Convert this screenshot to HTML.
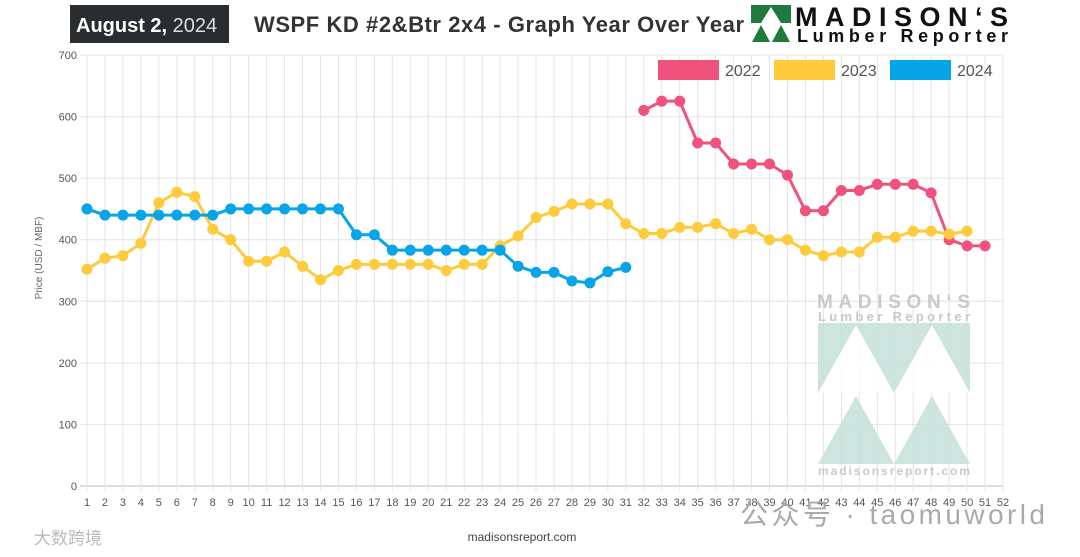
<!DOCTYPE html>
<html><head><meta charset="utf-8"><style>
body{margin:0;background:#fff;width:1080px;height:557px;overflow:hidden;font-family:"Liberation Sans","Noto Sans CJK SC",sans-serif}
svg{display:block}
</style></head><body>
<svg id="chart" width="1080" height="557">
<rect x="70" y="5" width="159" height="38" fill="#2a2d30"/>
<text x="76" y="32" font-size="20" fill="#fff" font-weight="bold">August 2,<tspan font-weight="normal" fill="#ddd"> 2024</tspan></text>
<text x="254" y="32" font-size="22" fill="#333" font-weight="bold" textLength="490">WSPF KD #2&amp;Btr 2x4 - Graph Year Over Year</text>
<g>
<polygon points="751,5 791,5 791,23 781,23 771,7 761,23 751,23" fill="#1f7a3c"/>
<polygon points="752,42 761,25 770,42" fill="#1f7a3c"/><polygon points="772,42 781,25 790,42" fill="#1f7a3c"/>
<text x="795" y="26" font-size="27" font-weight="bold" fill="#111" textLength="213">MADISON‘S</text>
<text x="797" y="42" font-size="18" font-weight="bold" fill="#111" textLength="211">Lumber Reporter</text>
</g>
<g id="grid"></g>
<g opacity="0.9">
<text x="817" y="308" font-size="19" font-weight="bold" fill="#c4c4c4" textLength="153">MADISON‘S</text>
<text x="818" y="321" font-size="13" font-weight="bold" fill="#c4c4c4" textLength="152">Lumber Reporter</text>
<rect x="818" y="323" width="152" height="70" fill="#c8e2dc"/>
<polygon points="818,393 856,325 894,393" fill="#fff"/><polygon points="894,393 932,325 970,393" fill="#fff"/>
<polygon points="818,464 856,396 894,464" fill="#c8e2dc"/><polygon points="894,464 932,396 970,464" fill="#c8e2dc"/>
<text x="818" y="475" font-size="12" font-weight="bold" fill="#c4c4c4" textLength="152">madisonsreport.com</text>
</g>
<g id="series"></g>
<g id="legend"></g>
<text x="522" y="541" font-size="12" fill="#444" text-anchor="middle">madisonsreport.com</text>
<text x="42" y="258" font-size="10" fill="#666" text-anchor="middle" transform="rotate(-90 42 258)">Price (USD / MBF)</text>
<text x="34" y="544" font-size="17" fill="#bbb">大数跨境</text>
<text x="740" y="524" font-size="28" fill="#aaa" textLength="305">公众号 · taomuworld</text>
</svg>
<script>
const weeks=[];for(let i=1;i<=52;i++)weeks.push(i);
const yTicks=[0,100,200,300,400,500,600,700];
const seriesNames=["2022","2023","2024"];
const data2022=[null,null,null,null,null,null,null,null,null,null,null,null,null,null,null,null,null,null,null,null,null,null,null,null,null,null,null,null,null,null,null,610,625,625,557,557,523,523,523,505,447,447,480,480,490,490,490,476,400,390,390];
const data2023=[352,370,374,394,460,477,470,417,400,365,365,380,357,335,350,360,360,360,360,360,350,360,360,390,406,436,446,458,458,458,426,410,410,420,420,426,410,417,400,400,383,374,380,380,404,404,414,414,409,414];
const data2024=[450,440,440,440,440,440,440,440,450,450,450,450,450,450,450,408,408,383,383,383,383,383,383,383,357,347,347,333,330,348,355];
const colors=["#f0527e","#fdcb3c","#08a4e8"];
const NS="http://www.w3.org/2000/svg";
const x=w=>87+(w-1)*(1003-87)/51;
const y=v=>486-v*(486-55)/700;
function mk(t,a,p){const e=document.createElementNS(NS,t);for(const k in a)e.setAttribute(k,a[k]);p.appendChild(e);return e;}
const g=document.getElementById('grid');
yTicks.forEach(v=>{
 const l=mk('line',{x1:80,x2:1003,y1:y(v),y2:y(v),stroke:v===0?'#bbb':'#e4e4e4'},g);
 
 
 const t=mk('text',{x:77,y:y(v)+4,'font-size':11,fill:'#555','text-anchor':'end'},g);t.textContent=v;
 
 
});
weeks.forEach(w=>{
 const l=mk('line',{x1:x(w),x2:x(w),y1:55,y2:491,stroke:'#e4e4e4'},g);
 
 
 const t=mk('text',{x:x(w),y:506,'font-size':11,fill:'#555','text-anchor':'middle'},g);t.textContent=w;
 
 
});
const sg=document.getElementById('series');
[data2022,data2023,data2024].forEach((d,i)=>{
 let pts=[];d.forEach((v,j)=>{if(v!=null)pts.push(x(j+1)+','+y(v));});
 const pl=mk('polyline',{points:pts.join(' '),fill:'none',stroke:colors[i],'stroke-width':3},sg);
 
 
 d.forEach((v,j)=>{if(v==null)return;
  const c=mk('circle',{cx:x(j+1),cy:y(v),r:5.5,fill:colors[i]},sg);
  
  
 });
});
const lg=document.getElementById('legend');
const lx=[658,774,890];
seriesNames.forEach((n,i)=>{
 const r=mk('rect',{x:lx[i],y:60,width:61,height:20,fill:colors[i]},lg);
 
 
 const t=mk('text',{x:lx[i]+67,y:76,'font-size':16,fill:'#555'},lg);t.textContent=n;
 
 
});
</script>
</body></html>
